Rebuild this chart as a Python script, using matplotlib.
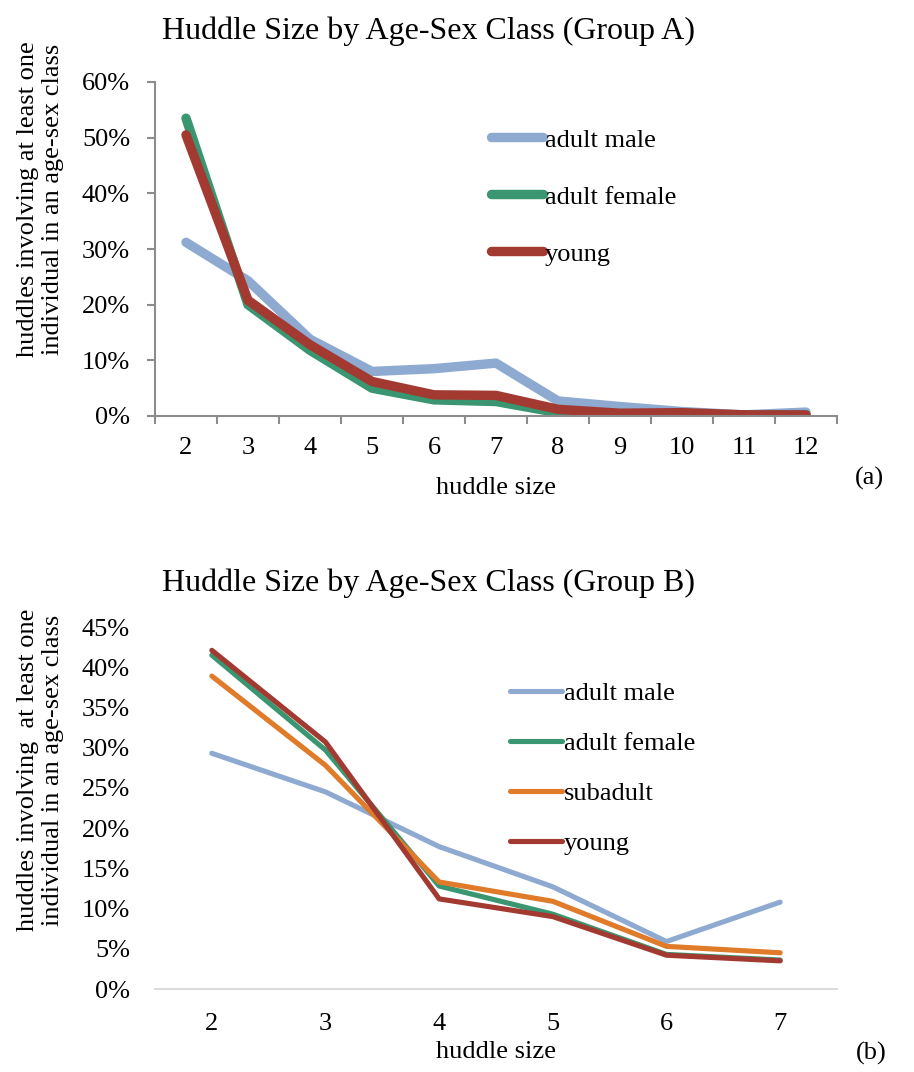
import numpy as np
import matplotlib.pyplot as plt
from matplotlib.ticker import PercentFormatter

plt.rcParams['font.family'] = ['Liberation Serif', 'DejaVu Serif']

# Group A: share of huddles by size (fractions)
sizes_a = ['2', '3', '4', '5', '6', '7', '8', '9', '10', '11', '12']
adult_male_a = [0.312, 0.243, 0.138, 0.080, 0.085, 0.095, 0.027, 0.017, 0.008, 0.002, 0.007]
adult_female_a = [0.535, 0.200, 0.118, 0.050, 0.029, 0.026, 0.006, 0.002, 0.002, 0.002, 0.002]
young_a = [0.505, 0.208, 0.128, 0.062, 0.038, 0.037, 0.012, 0.005, 0.006, 0.002, 0.002]

# Group B
sizes_b = ['2', '3', '4', '5', '6', '7']
adult_male_b = [0.293, 0.245, 0.177, 0.127, 0.059, 0.108]
adult_female_b = [0.415, 0.297, 0.128, 0.093, 0.043, 0.036]
subadult_b = [0.389, 0.278, 0.133, 0.109, 0.053, 0.045]
young_b = [0.421, 0.307, 0.112, 0.090, 0.042, 0.035]

C_MALE = '#8eaad1'
C_FEMALE = '#3a9670'
C_SUB = '#df7b29'
C_YOUNG = '#a23a31'
AXIS_GREY = '#8c8c8c'
FS = 19
TITLE_X = (429 - 155) / 682   # titles sit left of the axes centre

fig = plt.figure(figsize=(9.14, 10.72), dpi=100)

# ---- panel (a) ----
ax1 = fig.add_axes([155 / 914, 1 - 416 / 1072, 682 / 914, 334 / 1072])
x_a = np.arange(len(sizes_a))
lw_a = 6.8
for vals, col, name in [(adult_male_a, C_MALE, 'adult male'),
                        (adult_female_a, C_FEMALE, 'adult female'),
                        (young_a, C_YOUNG, 'young')]:
    ax1.plot(x_a, vals, color=col, lw=lw_a, solid_capstyle='round',
             solid_joinstyle='round', label=name)
ax1.set_xlim(-0.5, len(sizes_a) - 0.5)
ax1.set_ylim(0, 0.6)
ax1.set_yticks(np.arange(0, 0.61, 0.1))
ax1.yaxis.set_major_formatter(PercentFormatter(1.0, decimals=0))
ax1.set_xticks(x_a)
ax1.set_xticklabels(sizes_a)
ax1.set_xticks(np.arange(-0.5, len(sizes_a), 1.0), minor=True)
ax1.tick_params(axis='x', which='major', length=0, labelsize=FS, pad=15)
ax1.tick_params(axis='x', which='minor', length=6, color=AXIS_GREY, width=1.5)
ax1.tick_params(axis='y', length=6, color=AXIS_GREY, width=1.5, labelsize=FS, pad=12)
for side in ['top', 'right']:
    ax1.spines[side].set_visible(False)
for side in ['left', 'bottom']:
    ax1.spines[side].set_color(AXIS_GREY)
    ax1.spines[side].set_linewidth(1.5)
ax1.set_title('Huddle Size by Age-Sex Class (Group A)', fontsize=23, pad=31, x=TITLE_X)
ax1.set_xlabel('huddle size', fontsize=FS, labelpad=13)
ax1.set_ylabel('huddles involving at least one\nindividual in an age-sex class',
               fontsize=FS, linespacing=1.15)
ax1.yaxis.set_label_coords((64 - 155) / 682, 0.65)
ax1.legend(loc='upper left', bbox_to_anchor=(0.492, 0.862), frameon=False,
           fontsize=FS, handlelength=2.0, handletextpad=0.05, labelspacing=1.27,
           borderpad=0, borderaxespad=0)
fig.text(869 / 914, 1 - 478 / 1072, '(a)', fontsize=FS, ha='center', va='center')

# ---- panel (b) ----
ax2 = fig.add_axes([155 / 914, 1 - 989 / 1072, 682 / 914, 362 / 1072])
x_b = np.arange(len(sizes_b))
lw_b = 3.7
for vals, col, name in [(adult_male_b, C_MALE, 'adult male'),
                        (adult_female_b, C_FEMALE, 'adult female'),
                        (subadult_b, C_SUB, 'subadult'),
                        (young_b, C_YOUNG, 'young')]:
    ax2.plot(x_b, vals, color=col, lw=lw_b, solid_capstyle='round', label=name)
ax2.set_xlim(-0.5, len(sizes_b) - 0.5)
ax2.set_ylim(0, 0.45)
ax2.set_yticks(np.arange(0, 0.451, 0.05))
ax2.yaxis.set_major_formatter(PercentFormatter(1.0, decimals=0))
ax2.set_xticks(x_b)
ax2.set_xticklabels(sizes_b)
ax2.tick_params(axis='x', length=0, labelsize=FS, pad=17)
ax2.tick_params(axis='y', length=0, labelsize=FS, pad=18)
for side in ['top', 'right', 'left']:
    ax2.spines[side].set_visible(False)
ax2.spines['bottom'].set_color('#d4d4d4')
ax2.spines['bottom'].set_linewidth(1.2)
ax2.set_title('Huddle Size by Age-Sex Class (Group B)', fontsize=23, pad=26, x=TITLE_X)
ax2.set_xlabel('huddle size', fontsize=FS, labelpad=4.5)
ax2.set_ylabel('huddles involving  at least one\nindividual in an age-sex class',
               fontsize=FS, linespacing=1.15)
ax2.yaxis.set_label_coords((64 - 155) / 682, 0.605)
ax2.legend(loc='upper left', bbox_to_anchor=(0.52, 0.848), frameon=False,
           fontsize=FS, handlelength=2.0, handletextpad=0.05, labelspacing=1.0,
           borderpad=0, borderaxespad=0)
fig.text(871 / 914, 1 - 1053 / 1072, '(b)', fontsize=FS, ha='center', va='center')

fig.savefig('out.png', dpi=100)
